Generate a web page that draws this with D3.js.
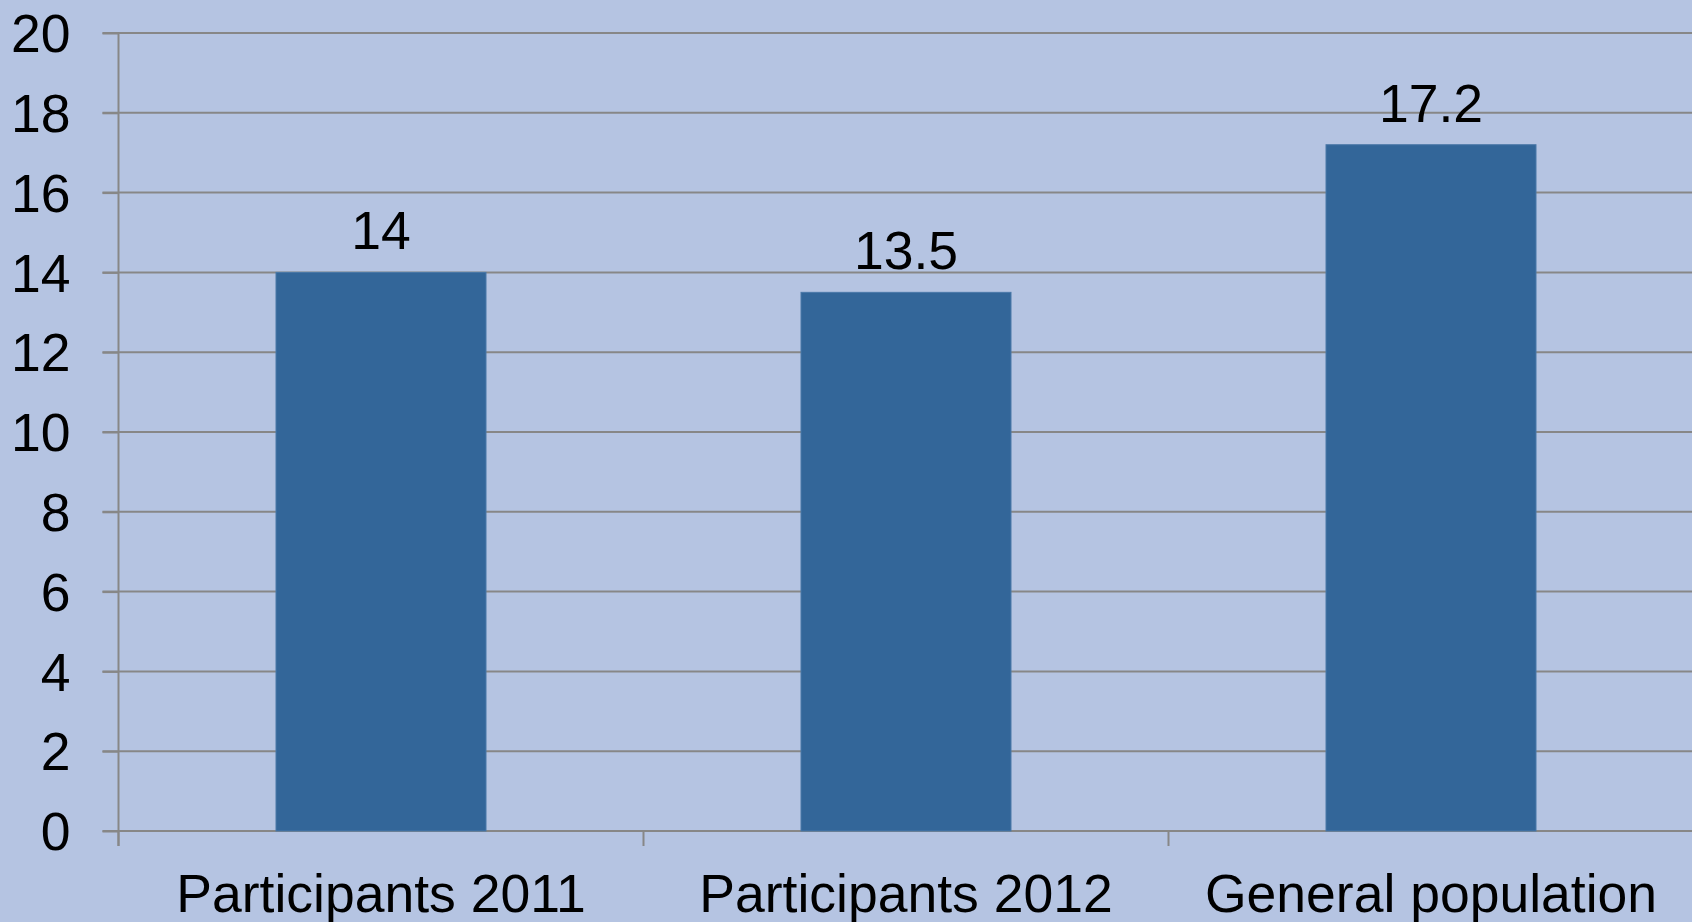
<!DOCTYPE html>
<html>
<head>
<meta charset="utf-8">
<script src="https://cdn.jsdelivr.net/npm/d3@7"></script>
<style>
  html, body { margin: 0; padding: 0; background: #b5c4e2; overflow: hidden; }
  svg { display: block; }
  text { font-family: "Liberation Sans", Arial, sans-serif; fill: #000; }
</style>
</head>
<body>
<svg id="chart" width="1692" height="922"></svg>
<script>
const categories = ["Participants 2011", "Participants 2012", "General population"];
const values = [14, 13.5, 17.2];
const valueLabels = ["14", "13.5", "17.2"];
const yTicks = [0, 2, 4, 6, 8, 10, 12, 14, 16, 18, 20];

(function () {
const svg = d3.select("#chart");
const W = 1692, H = 922;
const mLeft = 118.5, mRight = 1693.5, mTop = 33, mBottom = 831;
const fs = 53.5;

svg.append("rect").attr("width", W).attr("height", H).attr("fill", "#b5c4e2");

const x = d3.scaleBand().domain(categories).range([mLeft, mRight])
  .paddingInner(0.6).paddingOuter(0.3);
const xCat = d3.scaleBand().domain(categories).range([mLeft, mRight]).padding(0);
const y = d3.scaleLinear().domain([0, 20]).range([mBottom, mTop]);

const gridColor = "#878787";

// gridlines
svg.append("g").selectAll("line").data(yTicks).join("line")
  .attr("x1", mLeft - 16).attr("x2", W)
  .attr("y1", d => y(d)).attr("y2", d => y(d))
  .attr("stroke", gridColor).attr("stroke-width", 2);

// bars
svg.append("g").selectAll("rect").data(values).join("rect")
  .attr("x", (d, i) => x(categories[i]))
  .attr("width", x.bandwidth())
  .attr("y", d => y(d))
  .attr("height", d => y(0) - y(d))
  .attr("fill", "#336699")
  .attr("stroke", "#4a78a8").attr("stroke-width", 1);

// y axis
const yAxis = d3.axisLeft(y).tickValues(yTicks).tickSize(16).tickPadding(32).tickFormat(d3.format("d"));
const gy = svg.append("g").attr("transform", `translate(${mLeft},0)`).call(yAxis);
gy.select(".domain").attr("stroke", gridColor).attr("stroke-width", 2)
  .attr("d", `M0,${mTop}V${mBottom + 15}`);
gy.selectAll(".tick line").attr("stroke", gridColor).attr("stroke-width", 2);
gy.selectAll(".tick text").attr("font-size", fs).attr("dy", "0.35em")
  .attr("font-family", "'Liberation Sans', Arial, sans-serif").attr("fill", "#000");

// x axis category ticks
const bounds = categories.map(c => xCat(c)).concat([mRight]);
svg.append("g").selectAll("line").data(bounds).join("line")
  .attr("x1", d => d).attr("x2", d => d)
  .attr("y1", mBottom).attr("y2", mBottom + 15)
  .attr("stroke", gridColor).attr("stroke-width", 2);

svg.append("g").selectAll("text").data(categories).join("text")
  .attr("x", d => xCat(d) + xCat.bandwidth() / 2)
  .attr("y", 912)
  .attr("text-anchor", "middle")
  .attr("font-size", fs)
  .text(d => d);

// value labels
svg.append("g").selectAll("text").data(values).join("text")
  .attr("x", (d, i) => x(categories[i]) + x.bandwidth() / 2)
  .attr("y", d => y(d) - 23)
  .attr("text-anchor", "middle")
  .attr("font-size", fs)
  .text((d, i) => valueLabels[i]);
})();
</script>
</body>
</html>
